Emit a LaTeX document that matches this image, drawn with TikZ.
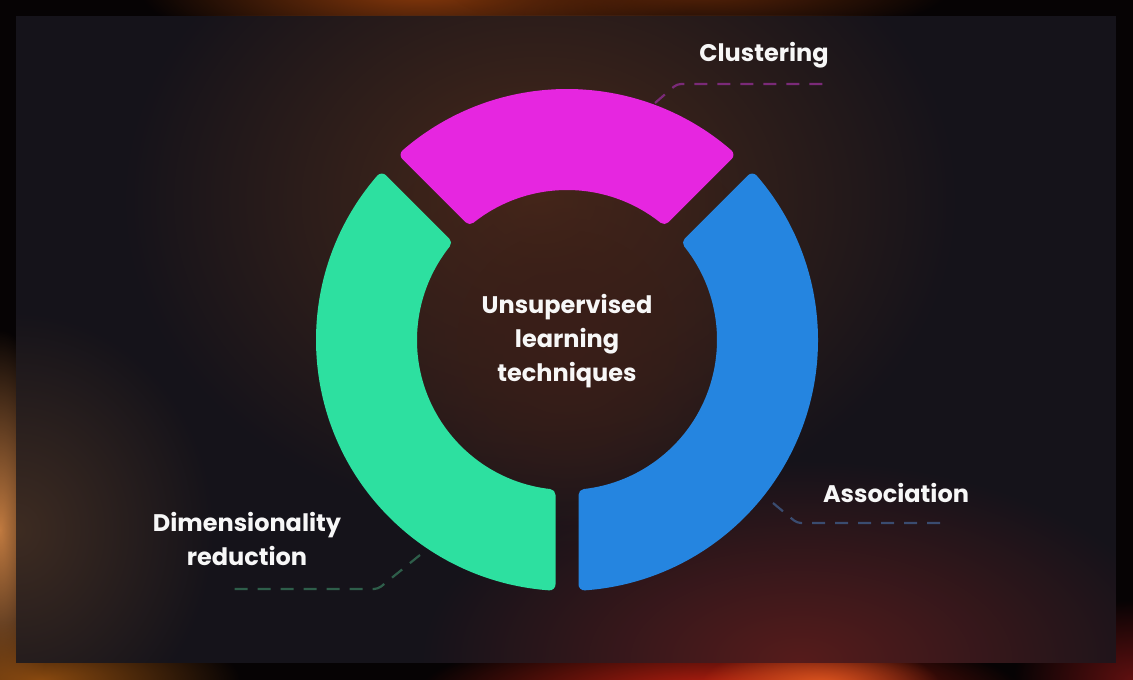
\documentclass[tikz,border=0pt]{standalone}
\usepackage{fontspec}
\setmainfont{Poppins}
\usetikzlibrary{fadings}
\tikzfading[name=glow, inner color=transparent!0, outer color=transparent!100]
\definecolor{framebg}{HTML}{060304}
\definecolor{panelbg}{HTML}{15131A}
\definecolor{magseg}{HTML}{E626E0}
\definecolor{greenseg}{HTML}{2DE0A0}
\definecolor{blueseg}{HTML}{2585E0}
\definecolor{magline}{HTML}{7A2A78}
\definecolor{blueline}{HTML}{3A4C70}
\definecolor{greenline}{HTML}{2E5E4A}
\definecolor{txt}{HTML}{F7F7F7}
\definecolor{gA}{HTML}{8A3A0C}
\definecolor{gB}{HTML}{5A2408}
\definecolor{gC}{HTML}{C07A40}
\definecolor{gD}{HTML}{8A4A10}
\definecolor{gE}{HTML}{C02010}
\definecolor{gF}{HTML}{E05820}
\definecolor{gG}{HTML}{601010}
\definecolor{pA}{HTML}{4A2A1A}
\definecolor{pB}{HTML}{3A1E18}
\definecolor{pC}{HTML}{561C1C}
\definecolor{pD}{HTML}{3E2C22}
\begin{document}
\begin{tikzpicture}[x=1pt,y=1pt,
  seg/.style={line width=12pt, line join=round},
  lbl/.style={text=txt, font=\bfseries\fontsize{24}{34}\selectfont, align=center, inner sep=0pt},
  leader/.style={line width=2.2pt, dash pattern=on 13pt off 10pt, rounded corners=4pt}]
\useasboundingbox (0,0) rectangle (1133,680);
% outer frame with glows
\fill[framebg] (0,0) rectangle (1133,680);
\begin{scope}
\clip (0,0) rectangle (1133,680);
\fill[gA, path fading=glow] (420,690) ellipse (280 and 70);
\fill[gB, path fading=glow] (700,690) ellipse (250 and 50);
\fill[gC, path fading=glow] (0,150) ellipse (60 and 200);
\fill[gD, path fading=glow] (40,0) ellipse (200 and 60);
\fill[gE, path fading=glow] (720,-10) ellipse (300 and 60);
\fill[gF, path fading=glow] (820,-5) ellipse (120 and 40);
\fill[gG, path fading=glow] (1133,0) ellipse (120 and 80);
\end{scope}
% panel
\fill[panelbg] (16,17) rectangle (1116,664);
\begin{scope}
\clip (16,17) rectangle (1116,664);
\fill[pA, path fading=glow] (540,480) ellipse (420 and 330);
\fill[pB, path fading=glow] (567,340) circle (220);
\fill[pC, path fading=glow] (800,20) ellipse (380 and 200);
\fill[pD, path fading=glow] (16,150) ellipse (200 and 220);
\end{scope}
% ring segments
\begin{scope}[shift={(567,340)}]
\filldraw[seg, magseg] (49.096:245) arc[start angle=49.096, end angle=130.904, radius=245]
  -- (128.559:156) arc[start angle=128.559, end angle=51.441, radius=156] -- cycle;
\filldraw[seg, greenseg] (139.096:245) arc[start angle=139.096, end angle=265.904, radius=245]
  -- (263.559:156) arc[start angle=263.559, end angle=141.441, radius=156] -- cycle;
\filldraw[seg, blueseg] (-85.904:245) arc[start angle=-85.904, end angle=40.904, radius=245]
  -- (38.559:156) arc[start angle=38.559, end angle=-83.559, radius=156] -- cycle;
\end{scope}
% labels
\node[lbl] (center) at (567,339) {Unsupervised\\learning\\techniques};
\node[lbl] (clus) at (764,625) {Clustering};
\node[lbl] (assoc) at (896,187) {Association};
\node[lbl] (dimred) at (247,141) {Dimensionality\\reduction};
% leaders
\coordinate (clA) at (655,577);
\coordinate (clB) at (677,596);
\coordinate (clC) at (824,596);
\coordinate (asA) at (773,177);
\coordinate (asB) at (797,157);
\coordinate (asC) at (944,157);
\coordinate (drA) at (420,125);
\coordinate (drB) at (378,91);
\coordinate (drC) at (230,91);
\draw[leader, magline] (clA) -- (clB) -- (clC);
\draw[leader, blueline] (asA) -- (asB) -- (asC);
\draw[leader, greenline] (drA) -- (drB) -- (drC);
\end{tikzpicture}
\end{document}
